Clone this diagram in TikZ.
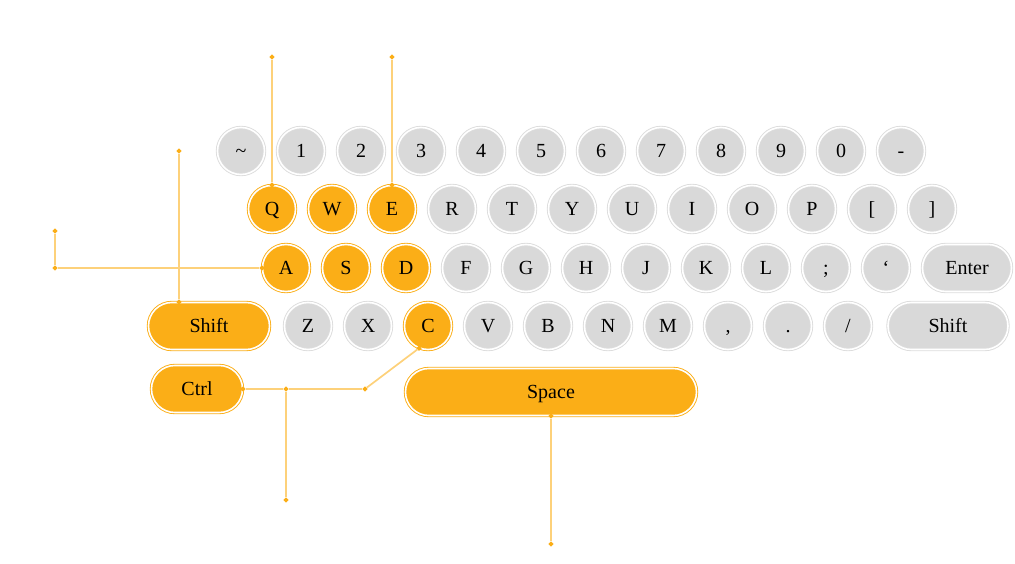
\documentclass[tikz,border=0pt]{standalone}
\usepackage{fontspec}
\setmainfont{Liberation Serif}
\usetikzlibrary{shapes.geometric, arrows}
\definecolor{keyorange}{HTML}{FBAE17}
\definecolor{keygrey}{HTML}{D9D9D9}
\definecolor{ringgrey}{HTML}{DCDCDC}
\definecolor{leadorange}{HTML}{FDD17A}
\tikzstyle{keyg} = [circle, minimum size=47pt, inner sep=0pt, fill=keygrey, draw=ringgrey, double=white, double distance=1.6pt, line width=0.9pt, text height=13pt, text depth=0pt, font=\fontsize{20}{22}\selectfont]
\tikzstyle{keyo} = [keyg, fill=keyorange, draw=keyorange]
\tikzstyle{pillg} = [rectangle, rounded corners=23.4pt, minimum height=47pt, inner sep=0pt, fill=keygrey, draw=ringgrey, double=white, double distance=1.6pt, line width=0.9pt, text height=13pt, text depth=0pt, font=\fontsize{20}{22}\selectfont]
\tikzstyle{pillo} = [pillg, fill=keyorange, draw=keyorange]
\tikzstyle{dot} = [diamond, fill=keyorange, inner sep=0pt, minimum size=5.5pt]
\tikzstyle{lead} = [draw=leadorange, line width=1.7pt]

\begin{document}
\begin{tikzpicture}[x=1pt, y=-1pt, node distance=60pt]
  \useasboundingbox (0,0) rectangle (1015,564);
  % number row
  \node (tilde) [keyg] at (241,151) {\textasciitilde};
  \node (k1) [keyg, right of=tilde] {1};
  \node (k2) [keyg, right of=k1] {2};
  \node (k3) [keyg, right of=k2] {3};
  \node (k4) [keyg, right of=k3] {4};
  \node (k5) [keyg, right of=k4] {5};
  \node (k6) [keyg, right of=k5] {6};
  \node (k7) [keyg, right of=k6] {7};
  \node (k8) [keyg, right of=k7] {8};
  \node (k9) [keyg, right of=k8] {9};
  \node (k0) [keyg, right of=k9] {0};
  \node (minus) [keyg, right of=k0] {-};
  % top row
  \node (Q) [keyo] at (272,209) {Q};
  \node (W) [keyo, right of=Q] {W};
  \node (E) [keyo, right of=W] {E};
  \node (R) [keyg, right of=E] {R};
  \node (T) [keyg, right of=R] {T};
  \node (Y) [keyg, right of=T] {Y};
  \node (U) [keyg, right of=Y] {U};
  \node (I) [keyg, right of=U] {I};
  \node (O) [keyg, right of=I] {O};
  \node (P) [keyg, right of=O] {P};
  \node (lbrack) [keyg, right of=P] {[};
  \node (rbrack) [keyg, right of=lbrack] {]};
  % home row
  \node (A) [keyo] at (286,268) {A};
  \node (S) [keyo, right of=A] {S};
  \node (D) [keyo, right of=S] {D};
  \node (F) [keyg, right of=D] {F};
  \node (G) [keyg, right of=F] {G};
  \node (H) [keyg, right of=G] {H};
  \node (J) [keyg, right of=H] {J};
  \node (K) [keyg, right of=J] {K};
  \node (L) [keyg, right of=K] {L};
  \node (semi) [keyg, right of=L] {;};
  \node (quote) [keyg, right of=semi] {‘};
  \node (enter) [pillg, minimum width=89pt] at (967,268) {Enter};
  % bottom row
  \node (lshift) [pillo, minimum width=121pt] at (209,326) {Shift};
  \node (Z) [keyg] at (308,326) {Z};
  \node (X) [keyg, right of=Z] {X};
  \node (C) [keyo, right of=X] {C};
  \node (V) [keyg, right of=C] {V};
  \node (B) [keyg, right of=V] {B};
  \node (N) [keyg, right of=B] {N};
  \node (M) [keyg, right of=N] {M};
  \node (comma) [keyg, right of=M] {,};
  \node (period) [keyg, right of=comma] {.};
  \node (slash) [keyg, right of=period] {/};
  \node (rshift) [pillg, minimum width=120pt] at (948,326) {Shift};
  \node (ctrl) [pillo, minimum width=91pt] at (197,389) {Ctrl};
  \node (space) [pillo, minimum width=291pt] at (551,392) {Space};

  % leader marks
  \node (qdot) [dot] at (Q.north) {};
  \node (qtop) [dot] at (272,57) {};
  \node (edot) [dot] at (E.north) {};
  \node (etop) [dot] at (392,57) {};
  \node (adot) [dot] at (A.west) {};
  \node (aleft) [dot] at (55,268) {};
  \node (atop) [dot] at (55,231) {};
  \node (sdot) [dot] at ([xshift=-30pt]lshift.north) {};
  \node (stop) [dot] at (179,151) {};
  \node (cdot) [dot] at (C.-112) {};
  \node (bend) [dot] at (365,389) {};
  \node (join) [dot] at (286,389) {};
  \node (jbot) [dot] at (286,500) {};
  \node (ctrldot) [dot] at (ctrl.east) {};
  \node (spdot) [dot] at (space.south) {};
  \node (spbot) [dot] at (551,544) {};

  \draw [lead] (qdot) -- (qtop);
  \draw [lead] (edot) -- (etop);
  \draw [lead] (adot) -- (aleft);
  \draw [lead] (aleft) -- (atop);
  \draw [lead] (sdot) -- (stop);
  \draw [lead] (cdot) -- (bend);
  \draw [lead] (bend) -- (join);
  \draw [lead] (join) -- (ctrldot);
  \draw [lead] (join) -- (jbot);
  \draw [lead] (spdot) -- (spbot);
\end{tikzpicture}
\end{document}
